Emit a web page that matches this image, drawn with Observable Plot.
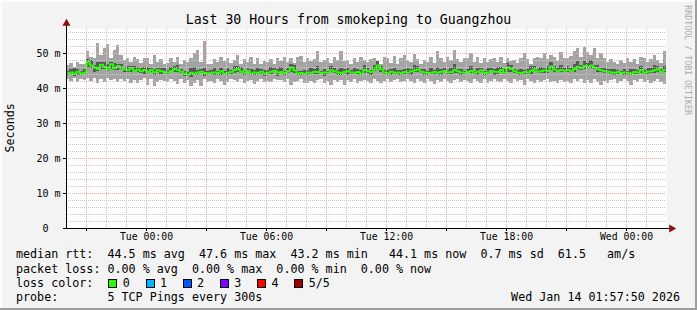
<!DOCTYPE html>
<html><head><meta charset="utf-8">
<script src="https://cdn.jsdelivr.net/npm/d3@7"></script>
<script src="https://cdn.jsdelivr.net/npm/@observablehq/plot@0.6"></script>
<style>
html,body{margin:0;padding:0;background:#f3f3f3;}
#c{position:relative;width:697px;height:310px;background:#f3f3f3;overflow:hidden;font-family:"DejaVu Sans Mono",monospace;color:#000;
 box-shadow: inset -2px -2px 0 #9e9e9e, inset 2px 2px 0 #fcfcfc;}
#c svg{position:absolute;left:0;top:0;}
.t{position:absolute;white-space:pre;line-height:1;}
.sq{position:absolute;width:7px;height:7px;border:1px solid #000;}
</style></head><body><div id="c"></div>
<script>
// ---- data: 10-minute samples from Mon 20:00 to Wed 02:00 ----
const median = [
44.4,44.6,44.2,44.8,44.3,44.5,47.6,46.6,46.0,45.6,46.8,46.2,45.4,46.9,45.8,46.4,46.0,45.5,45.2,45.8,45.0,45.4,44.9,45.3,44.8,45.3,44.6,45.2,44.9,44.7,
44.6,45.0,45.6,45.3,44.8,44.2,43.9,44.5,44.3,44.6,44.8,44.4,44.3,44.5,44.6,44.4,44.9,44.2,44.5,44.7,45.3,45.6,44.8,44.5,45.1,44.3,44.6,44.4,44.8,44.3,
44.5,44.8,45.1,44.6,44.7,44.4,44.9,46.0,45.2,44.3,44.4,44.2,44.6,44.5,44.8,44.7,44.4,44.6,44.5,45.2,44.9,44.6,44.4,44.8,44.9,44.6,44.5,44.7,44.3,45.3,
45.0,44.7,45.4,46.6,45.5,44.6,44.3,44.8,44.5,44.6,44.4,44.7,44.5,44.9,45.2,45.4,44.8,44.6,44.4,44.5,44.7,44.5,44.8,45.0,44.6,44.7,45.3,44.9,44.6,44.5,
44.7,45.0,44.5,44.8,45.2,44.4,44.6,45.0,44.8,44.7,45.3,44.5,46.0,45.6,44.9,44.5,44.4,44.7,44.6,45.1,45.5,44.8,44.9,45.2,45.0,46.3,45.4,45.0,45.3,45.1,
45.3,45.0,45.6,46.2,45.8,46.4,46.3,46.6,46.0,45.5,45.2,44.9,44.8,44.6,44.5,44.7,44.4,44.6,44.5,44.3,44.7,44.6,45.3,44.5,44.8,44.9,45.2,45.5,44.7,45.3];
const ping1 = [
42.5,42.0,42.8,41.8,42.6,42.2,43.0,42.0,42.8,41.5,42.5,41.8,43.0,42.3,42.5,41.8,42.6,42.0,42.6,41.5,42.3,41.3,42.2,42.8,41.0,42.5,40.5,41.8,42.4,42.0,
41.8,42.6,42.0,41.2,42.5,41.5,42.2,40.6,41.5,42.4,40.5,42.6,41.6,42.0,41.5,42.5,42.0,40.8,41.6,42.5,42.2,41.8,42.6,41.5,42.0,42.4,41.2,42.0,42.5,41.8,
42.0,41.6,42.5,42.2,42.4,41.8,42.6,41.0,41.6,42.0,42.5,41.5,41.3,42.0,41.5,42.4,42.5,41.5,42.0,40.8,42.3,41.6,42.2,41.0,42.4,41.8,42.5,41.5,42.0,42.3,
42.0,41.5,42.6,42.0,41.4,42.0,42.5,41.6,42.3,42.6,41.8,42.0,42.5,42.0,41.5,42.6,42.0,41.4,42.5,42.0,41.2,42.4,41.8,42.6,42.0,41.5,42.3,42.5,41.8,42.2,
42.0,41.4,42.5,42.0,41.5,42.6,41.5,42.0,42.5,42.0,41.6,42.5,42.0,41.5,42.6,42.0,42.3,41.0,42.5,42.0,41.5,42.4,41.8,42.2,42.5,41.6,42.0,41.3,42.4,41.8,
42.0,41.5,42.6,42.0,42.5,41.5,42.3,41.4,42.5,41.6,40.8,42.0,41.5,42.3,42.5,41.5,42.0,42.6,42.0,41.0,42.3,41.8,42.5,41.6,42.2,41.4,42.0,42.5,41.8,41.2];
const ping2 = [
43.7,44.1,43.3,43.6,43.7,44.1,45.8,45.8,44.6,45.0,45.3,45.5,44.9,45.3,45.2,45.2,45.5,44.6,44.6,44.7,44.5,44.6,44.3,44.0,44.3,44.6,43.6,44.6,44.1,44.2,
44.0,44.5,44.6,44.6,44.3,43.3,43.4,43.2,43.7,43.8,44.3,43.3,43.7,44.0,43.7,43.8,43.7,43.7,43.8,44.1,44.4,44.5,44.3,43.7,44.5,43.8,43.6,43.8,44.1,43.4,
44.0,44.0,44.5,43.4,44.2,43.7,44.3,44.7,44.3,43.8,43.7,43.6,43.6,44.0,44.0,44.1,43.9,43.5,43.9,44.5,44.4,43.7,43.8,44.3,43.7,44.0,44.0,43.9,43.7,44.3,
44.4,43.8,44.9,45.3,44.7,44.1,43.7,43.8,44.0,43.9,43.8,43.9,44.0,43.8,44.6,44.7,44.3,43.7,43.8,44.0,43.9,43.9,43.8,44.5,43.9,44.1,44.4,44.4,43.8,43.9,
44.2,44.3,43.9,43.8,44.7,43.6,44.0,44.5,43.6,44.1,44.6,44.0,44.7,44.7,44.3,44.0,43.6,44.1,44.1,44.1,44.8,44.2,44.4,44.3,44.4,45.1,44.6,44.5,44.6,44.5,
44.6,44.5,44.6,45.4,45.2,45.3,45.6,45.7,45.4,44.7,44.7,44.2,44.2,44.1,43.7,44.1,43.9,43.7,43.9,43.8,44.0,44.0,44.3,44.0,44.1,44.3,44.4,44.5,44.2,44.6];
const ping4 = [
45.0,45.4,45.7,45.3,45.0,45.5,48.4,48.1,46.6,47.4,47.5,47.4,47.0,47.4,47.1,47.0,46.9,46.0,46.4,46.4,46.4,45.9,45.7,45.9,46.1,45.8,45.5,45.6,45.6,45.7,
45.1,46.0,46.2,46.6,45.3,45.0,44.5,45.7,45.9,45.1,45.5,45.8,44.8,45.1,45.6,44.9,45.7,44.8,45.6,45.2,46.2,46.2,46.0,45.0,45.8,45.3,45.1,45.7,45.4,45.1,
45.1,45.9,45.6,45.4,46.1,44.9,45.6,47.0,46.5,44.9,44.9,45.1,45.2,45.7,45.3,46.2,45.0,45.4,45.0,46.2,45.6,45.1,45.7,45.4,45.8,45.1,45.6,45.3,45.1,46.5,
45.8,45.2,46.6,47.6,46.2,45.1,45.2,45.4,45.8,45.1,45.1,45.3,45.6,45.4,46.6,46.2,45.3,45.3,45.0,45.7,45.2,46.1,45.4,45.8,45.1,45.7,46.8,45.5,45.3,45.0,
45.3,46.2,45.0,45.7,45.8,44.9,45.6,45.7,45.3,46.0,45.9,45.3,47.1,46.5,45.4,45.1,45.4,45.2,45.3,46.3,46.3,45.3,46.0,45.8,46.4,47.5,46.3,45.6,46.6,45.8,
46.3,45.6,46.9,47.7,46.6,47.6,47.2,48.0,46.7,46.6,45.8,45.7,45.3,45.3,45.5,45.2,45.0,45.4,45.0,45.5,45.3,45.1,46.2,45.1,45.8,45.6,46.5,46.3,45.3,46.4];
const ping5 = [
46.5,47.2,46.0,47.5,46.8,47.0,50.5,49.0,48.5,52.8,49.5,51.5,52.5,48.5,51.0,52.2,49.5,48.0,48.5,47.5,49.0,48.2,47.2,48.5,48.5,47.0,49.5,47.5,48.3,47.0,
47.2,48.5,47.5,49.0,46.8,48.0,47.5,48.5,50.0,51.0,47.5,53.5,47.0,46.8,48.2,47.5,49.0,47.8,48.5,47.2,48.0,49.5,47.0,48.2,47.5,48.8,47.0,48.5,46.8,47.8,
47.5,48.2,47.0,48.5,47.8,49.0,47.5,48.5,47.2,48.8,49.2,47.5,48.5,47.8,48.2,50.5,47.5,48.0,48.5,47.2,49.0,48.0,50.5,47.8,48.0,47.0,48.5,47.5,49.0,48.0,
47.5,48.2,48.5,47.8,46.8,49.0,48.5,47.2,49.2,47.0,48.5,49.5,48.0,47.5,49.8,48.2,47.0,48.0,47.5,48.8,47.2,50.5,48.5,47.5,49.0,48.0,50.8,48.2,47.5,48.5,
48.5,50.0,47.5,49.0,47.2,48.5,47.5,48.2,48.5,47.5,48.8,47.2,48.5,47.8,48.0,47.2,48.5,50.0,48.2,47.0,48.5,49.0,48.5,50.0,48.2,49.5,48.8,47.8,50.2,48.5,
48.5,49.2,50.5,51.5,49.0,51.8,50.2,49.5,51.5,48.5,50.0,48.5,47.5,48.2,47.5,47.0,48.0,47.2,48.5,47.5,48.2,47.0,49.0,48.5,47.5,48.2,49.5,48.0,47.2,50.5];

const yTicks = [0, 10, 20, 30, 40, 50];
const titleText = "Last 30 Hours from smokeping to Guangzhou";
const legendLines = [
  "median rtt:  44.5 ms avg  47.6 ms max  43.2 ms min   44.1 ms now  0.7 ms sd  61.5   am/s",
  "packet loss: 0.00 % avg  0.00 % max  0.00 % min  0.00 % now",
  "loss color:",
  "probe:       5 TCP Pings every 300s"
];
const lossLabels = ["0", "1", "2", "3", "4", "5/5"];
const lossColors = ["#26ff00", "#00b8ff", "#0059ff", "#7e00ff", "#ff0000", "#a10000"];
const stampText = "Wed Jan 14 01:57:50 2026";
const yLabel = "Seconds";
const sideText = "RRDTOOL / TOBI OETIKER";

// ---- build ----
const start = Date.UTC(2026, 0, 12, 20, 0, 0);
const end = Date.UTC(2026, 0, 14, 2, 0, 0);
const stepMs = 10 * 60 * 1000;
const rows = median.map((m, i) => ({
  t1: new Date(start + i * stepMs),
  t2: new Date(start + (i + 1) * stepMs),
  tm: new Date(start + (i + 0.5) * stepMs),
  med: m, p1: ping1[i], p2: ping2[i], p4: ping4[i], p5: ping5[i]
}));
const yTop = 200 / 3.5;
const hours = d3.utcHour.range(new Date(start + 3600e3), new Date(end));
const majorX = hours.filter(d => d.getUTCHours() % 3 === 0);
const minorX = hours.filter(d => d.getUTCHours() % 3 !== 0);
const labelX = hours.filter(d => d.getUTCHours() % 6 === 0);
const minorY = d3.range(2, yTop, 2).filter(v => v % 10 !== 0);
const majorY = yTicks.filter(v => v > 0);
const fmt = d3.utcFormat("%a %H:%M");
const grid = "#c8c8c8", mgrid = "#f4acac", arrow = "#8b1010";

const chart = Plot.plot({
  width: 697, height: 310,
  marginLeft: 66, marginRight: 31, marginTop: 28, marginBottom: 82,
  style: {background: "transparent", fontFamily: "DejaVu Sans Mono", color: "#000", overflow: "visible"},
  x: {type: "utc", domain: [new Date(start), new Date(end)], label: null},
  y: {domain: [0, yTop], label: null},
  marks: [
    Plot.frame({fill: "white", stroke: "none"}),
    Plot.rect(rows, {x1: "t1", x2: "t2", y1: "p1", y2: "p5", fill: "#a4a4a4", shapeRendering: "crispEdges"}),
    Plot.rect(rows, {x1: "t1", x2: "t2", y1: "p2", y2: "p4", fill: "#585858", shapeRendering: "crispEdges"}),
    Plot.line(rows, {x: "tm", y: "med", curve: "step", stroke: lossColors[0], strokeWidth: 2}),
    Plot.ruleX(minorX, {stroke: grid, strokeDasharray: "1,1"}),
    Plot.ruleY(minorY, {stroke: grid, strokeDasharray: "1,1"}),
    Plot.ruleX(majorX, {stroke: mgrid, strokeDasharray: "1,1"}),
    Plot.ruleY(majorY, {stroke: mgrid, strokeDasharray: "1,1"}),
    Plot.axisY(yTicks, {tickSize: 3, tickPadding: 3, fontSize: 10, label: null,
      tickFormat: d => d === 0 ? "0\u00a0\u00a0" : d + " m"}),
    Plot.axisX(majorX, {tickSize: 3, tickFormat: () => "", label: null}),
    Plot.axisX(labelX, {tickSize: 0, tickPadding: 5, fontSize: 9.8, tickFormat: fmt, label: null}),
    Plot.ruleX([new Date(start)], {stroke: "#000", insetTop: -5}),
    Plot.ruleY([0], {stroke: "#000", insetRight: -5}),
    Plot.dot([0], {frameAnchor: "top-left", dy: -5, symbol: "triangle", r: 3, fill: arrow, stroke: "none"}),
    Plot.dot([0], {frameAnchor: "bottom-right", dx: 5, symbol: "triangle", r: 3, rotate: 90, fill: arrow, stroke: "none"})
  ]
});
const c = document.getElementById("c");
c.appendChild(chart);

function addText(txt, css) {
  const d = document.createElement("div");
  d.className = "t";
  d.textContent = txt;
  Object.assign(d.style, css);
  c.appendChild(d);
  return d;
}
addText(titleText, {left: "0px", width: "697px", textAlign: "center", top: "12.7px", fontSize: "13.2px"});
const tops = [249.4, 263.8, 278.1, 292.4];
legendLines.forEach((l, i) => addText(l, {left: "16px", top: tops[i] + "px", fontSize: "11.7px"}));
lossLabels.forEach((lab, i) => {
  const x = 108.3 + i * 37.2;
  const s = document.createElement("div");
  s.className = "sq";
  s.style.left = x + "px"; s.style.top = "279px"; s.style.background = lossColors[i];
  c.appendChild(s);
  addText(lab, {left: (x + 14.4) + "px", top: tops[2] + "px", fontSize: "11.7px"});
});
addText(stampText, {right: "17px", top: tops[3] + "px", fontSize: "11.7px"});
addText(yLabel, {left: (11.25 - 50) + "px", top: (128 - 5.85) + "px", width: "100px", height: "11.7px",
  textAlign: "center", fontSize: "11.7px", transform: "rotate(-90deg)"});
addText(sideText, {left: (687.5 - 60) + "px", top: (60 - 4.15) + "px", width: "120px", height: "8.3px",
  textAlign: "center", fontSize: "8.3px", color: "#ababab", transform: "rotate(90deg)"});
</script></body></html>
